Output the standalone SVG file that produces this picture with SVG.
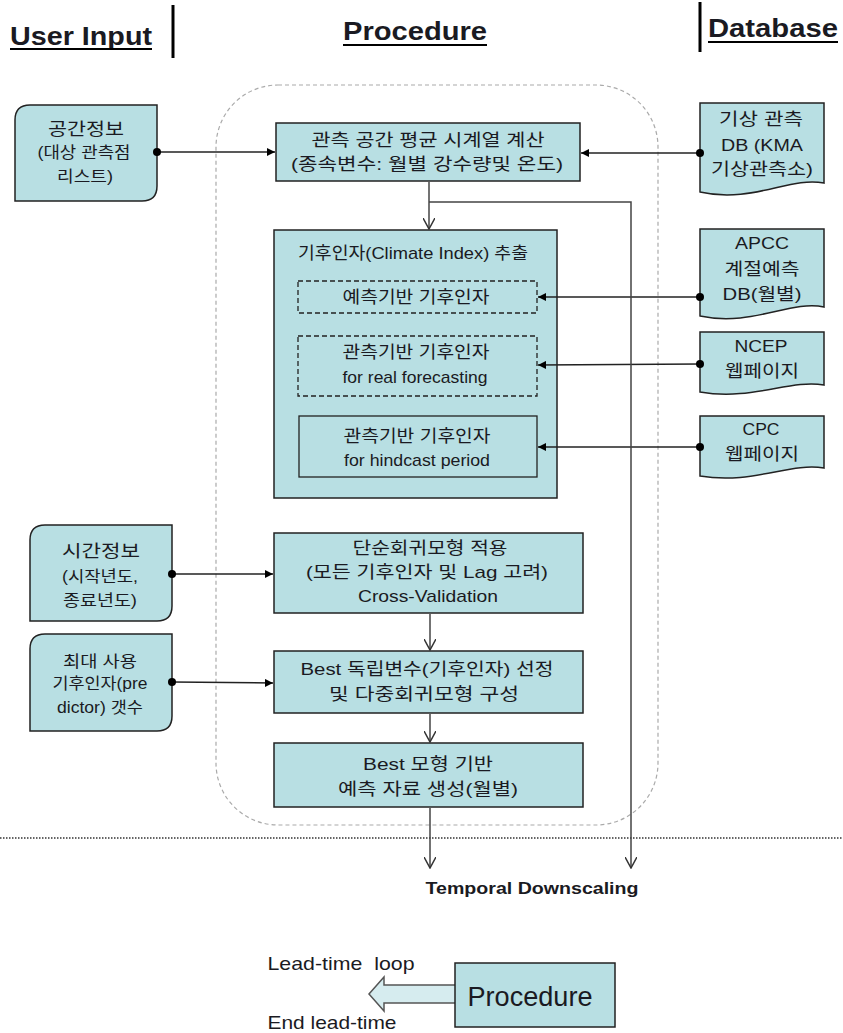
<svg xmlns="http://www.w3.org/2000/svg" width="843" height="1033" viewBox="0 0 843 1033">
<style>
text{font-family:"Liberation Sans","Noto Sans CJK KR",sans-serif;fill:#1a1a22;text-anchor:middle}
.hd{font-size:26px;font-weight:bold}
.t{font-size:17px}
.s{font-size:16px}
.box{fill:#b8dfe3;stroke:#222;stroke-width:1.5}
.sub{fill:#b8dfe3;stroke:#222;stroke-width:1.3}
.dsub{fill:#b8dfe3;stroke:#222;stroke-width:1.3;stroke-dasharray:5,3}
.ln{fill:none;stroke:#222;stroke-width:1.5}
.gl{fill:none;stroke:#444;stroke-width:1.5}
.dot{fill:#000}
</style>
<defs>
<marker id="fa" viewBox="0 0 10 10" refX="10" refY="5" markerWidth="8" markerHeight="8" markerUnits="userSpaceOnUse" orient="auto"><path d="M0,0 L10,5 L0,10 Z" fill="#000"/></marker>
<marker id="va" viewBox="0 0 12 12" refX="11" refY="6" markerWidth="12" markerHeight="12" markerUnits="userSpaceOnUse" orient="auto"><path d="M0,0 L11,6 L0,12" fill="none" stroke="#333" stroke-width="1.5"/></marker>
</defs>

<g id="headers">
<text class="hd" x="81" y="45" textLength="142" lengthAdjust="spacingAndGlyphs">User Input</text>
<line x1="10" y1="49" x2="152" y2="49" stroke="#000" stroke-width="2"/>
<line x1="173" y1="5" x2="173" y2="58" stroke="#000" stroke-width="3"/>
<text class="hd" x="415" y="40" textLength="144" lengthAdjust="spacingAndGlyphs">Procedure</text>
<line x1="343" y1="45" x2="487" y2="45" stroke="#000" stroke-width="2"/>
<line x1="700" y1="2" x2="700" y2="52" stroke="#000" stroke-width="3"/>
<text class="hd" x="773" y="37" textLength="130" lengthAdjust="spacingAndGlyphs">Database</text>
<line x1="708" y1="42" x2="838" y2="42" stroke="#000" stroke-width="2"/>
</g>

<rect id="procedure-area" x="216" y="85" width="442" height="740" rx="62" ry="62" fill="none" stroke="#aaa" stroke-width="1.2" stroke-dasharray="4,3"/>
<line id="divider" x1="0" y1="838" x2="843" y2="838" stroke="#333" stroke-width="1.5" stroke-dasharray="1.5,1.5"/>

<g id="spatial-info">
<path class="box" d="M30,105 H157 V186 Q157,201 142,201 H15 V120 Q15,105 30,105 Z"/>
<text class="t" x="86" y="135" textLength="76" lengthAdjust="spacingAndGlyphs">공간정보</text>
<text class="s" x="84" y="158" textLength="93" lengthAdjust="spacingAndGlyphs">(대상 관측점</text>
<text class="s" x="85" y="182" textLength="56" lengthAdjust="spacingAndGlyphs">리스트)</text>
</g>

<g id="time-info">
<path class="box" d="M45,525 H172 V606 Q172,621 157,621 H30 V540 Q30,525 45,525 Z"/>
<text class="t" x="101" y="557" textLength="78" lengthAdjust="spacingAndGlyphs">시간정보</text>
<text class="s" x="100" y="582" textLength="76" lengthAdjust="spacingAndGlyphs">(시작년도,</text>
<text class="s" x="100" y="606" textLength="74" lengthAdjust="spacingAndGlyphs">종료년도)</text>
</g>

<g id="max-predictors">
<path class="box" d="M45,634 H172 V716 Q172,731 157,731 H30 V649 Q30,634 45,634 Z"/>
<text class="s" x="100" y="667" textLength="74" lengthAdjust="spacingAndGlyphs">최대 사용</text>
<text class="s" x="100" y="689" textLength="95" lengthAdjust="spacingAndGlyphs">기후인자(pre</text>
<text class="s" x="100" y="713" textLength="86" lengthAdjust="spacingAndGlyphs">dictor) 갯수</text>
</g>

<g id="spatial-mean">
<rect class="box" x="276" y="123" width="304" height="58"/>
<text class="t" x="428" y="146" textLength="233" lengthAdjust="spacingAndGlyphs">관측 공간 평균 시계열 계산</text>
<text class="t" x="427" y="170" textLength="272" lengthAdjust="spacingAndGlyphs">(종속변수: 월별 강수량및 온도)</text>
</g>

<g id="climate-index">
<rect class="box" x="274" y="230" width="283" height="268"/>
<text class="t" x="413" y="259" textLength="230" lengthAdjust="spacingAndGlyphs">기후인자(Climate Index) 추출</text>
<g id="forecast-based">
<rect class="dsub" x="298" y="281" width="239" height="32"/>
<text class="t" x="416" y="303" textLength="147" lengthAdjust="spacingAndGlyphs">예측기반 기후인자</text>
</g>
<g id="obs-real">
<rect class="dsub" x="298" y="336" width="239" height="60"/>
<text class="t" x="416" y="358" textLength="147" lengthAdjust="spacingAndGlyphs">관측기반 기후인자</text>
<text class="t" x="415" y="383" textLength="145" lengthAdjust="spacingAndGlyphs">for real forecasting</text>
</g>
<g id="obs-hindcast">
<rect class="sub" x="299" y="416" width="238" height="61"/>
<text class="t" x="417" y="442" textLength="147" lengthAdjust="spacingAndGlyphs">관측기반 기후인자</text>
<text class="t" x="417" y="466" textLength="146" lengthAdjust="spacingAndGlyphs">for hindcast period</text>
</g>
</g>

<g id="simple-regression">
<rect class="box" x="274" y="533" width="309" height="80"/>
<text class="t" x="430" y="554" textLength="155" lengthAdjust="spacingAndGlyphs">단순회귀모형 적용</text>
<text class="t" x="427" y="578" textLength="242" lengthAdjust="spacingAndGlyphs">(모든 기후인자 및 Lag 고려)</text>
<text class="t" x="428" y="602" textLength="140" lengthAdjust="spacingAndGlyphs">Cross-Validation</text>
</g>

<g id="best-predictor">
<rect class="box" x="274" y="651" width="309" height="62"/>
<text class="t" x="427" y="675" textLength="253" lengthAdjust="spacingAndGlyphs">Best 독립변수(기후인자) 선정</text>
<text class="t" x="424" y="700" textLength="190" lengthAdjust="spacingAndGlyphs">및 다중회귀모형 구성</text>
</g>

<g id="best-model">
<rect class="box" x="274" y="743" width="309" height="64"/>
<text class="t" x="428" y="770" textLength="130" lengthAdjust="spacingAndGlyphs">Best 모형 기반</text>
<text class="t" x="428" y="795" textLength="180" lengthAdjust="spacingAndGlyphs">예측 자료 생성(월별)</text>
</g>

<g id="kma-db">
<path class="box" d="M700,103 H824 V183 C790,176 752,204 700,192 Z"/>
<text class="t" x="761" y="125" textLength="84" lengthAdjust="spacingAndGlyphs">기상 관측</text>
<text class="t" x="762" y="151" textLength="82" lengthAdjust="spacingAndGlyphs">DB (KMA</text>
<text class="t" x="762" y="175" textLength="102" lengthAdjust="spacingAndGlyphs">기상관측소)</text>
</g>

<g id="apcc-db">
<path class="box" d="M700,229 H824 V307 C790,300 752,327 700,316 Z"/>
<text class="t" x="762" y="249" textLength="54" lengthAdjust="spacingAndGlyphs">APCC</text>
<text class="t" x="762" y="275" textLength="75" lengthAdjust="spacingAndGlyphs">계절예측</text>
<text class="t" x="762" y="300" textLength="79" lengthAdjust="spacingAndGlyphs">DB(월별)</text>
</g>

<g id="ncep">
<path class="box" d="M700,332 H824 V385 C790,379 752,401 700,392 Z"/>
<text class="t" x="761" y="352" textLength="53" lengthAdjust="spacingAndGlyphs">NCEP</text>
<text class="t" x="762" y="377" textLength="74" lengthAdjust="spacingAndGlyphs">웹페이지</text>
</g>

<g id="cpc">
<path class="box" d="M700,416 H824 V468 C790,462 752,485 700,476 Z"/>
<text class="t" x="761" y="435" textLength="37" lengthAdjust="spacingAndGlyphs">CPC</text>
<text class="t" x="762" y="460" textLength="74" lengthAdjust="spacingAndGlyphs">웹페이지</text>
</g>

<g id="temporal-downscaling">
<text x="532" y="894" style="font-size:17px;font-weight:bold" textLength="213" lengthAdjust="spacingAndGlyphs">Temporal Downscaling</text>
</g>

<g id="legend">
<text x="341" y="970" style="font-size:19px;white-space:pre" xml:space="preserve" textLength="147" lengthAdjust="spacingAndGlyphs">Lead-time  loop</text>
<text x="332" y="1029" style="font-size:19px" textLength="129" lengthAdjust="spacingAndGlyphs">End lead-time</text>
<path d="M455,985 H384 V977 L369,994 L384,1011 V1003 H455" fill="#d6ecef" stroke="#555" stroke-width="1.5"/>
<rect class="box" x="455" y="963" width="160" height="64"/>
<text x="530" y="1006" style="font-size:28px" textLength="125" lengthAdjust="spacingAndGlyphs">Procedure</text>
</g>

<g id="connectors">
<line class="ln" x1="157" y1="152" x2="275" y2="152" marker-end="url(#fa)"/>
<line class="ln" x1="700" y1="153" x2="581" y2="153" marker-end="url(#fa)"/>
<line class="ln" x1="700" y1="297" x2="538" y2="297" marker-end="url(#fa)"/>
<line class="ln" x1="700" y1="364" x2="538" y2="365" marker-end="url(#fa)"/>
<line class="ln" x1="700" y1="447" x2="538" y2="447" marker-end="url(#fa)"/>
<line class="ln" x1="172" y1="574" x2="273" y2="574" marker-end="url(#fa)"/>
<line class="ln" x1="172" y1="682" x2="273" y2="683" marker-end="url(#fa)"/>
<line class="gl" x1="429" y1="182" x2="429" y2="229" marker-end="url(#va)"/>
<polyline class="gl" points="429,202 631,202 631,868" marker-end="url(#va)"/>
<line class="gl" x1="430" y1="614" x2="430" y2="650" marker-end="url(#va)"/>
<line class="gl" x1="430" y1="714" x2="430" y2="742" marker-end="url(#va)"/>
<line class="gl" x1="430" y1="808" x2="430" y2="868" marker-end="url(#va)"/>
<circle class="dot" cx="157" cy="152" r="4"/>
<circle class="dot" cx="700" cy="153" r="4"/>
<circle class="dot" cx="700" cy="297" r="4"/>
<circle class="dot" cx="700" cy="364" r="4"/>
<circle class="dot" cx="700" cy="447" r="4"/>
<circle class="dot" cx="172" cy="574" r="4"/>
<circle class="dot" cx="172" cy="682" r="4"/>
</g>
</svg>
